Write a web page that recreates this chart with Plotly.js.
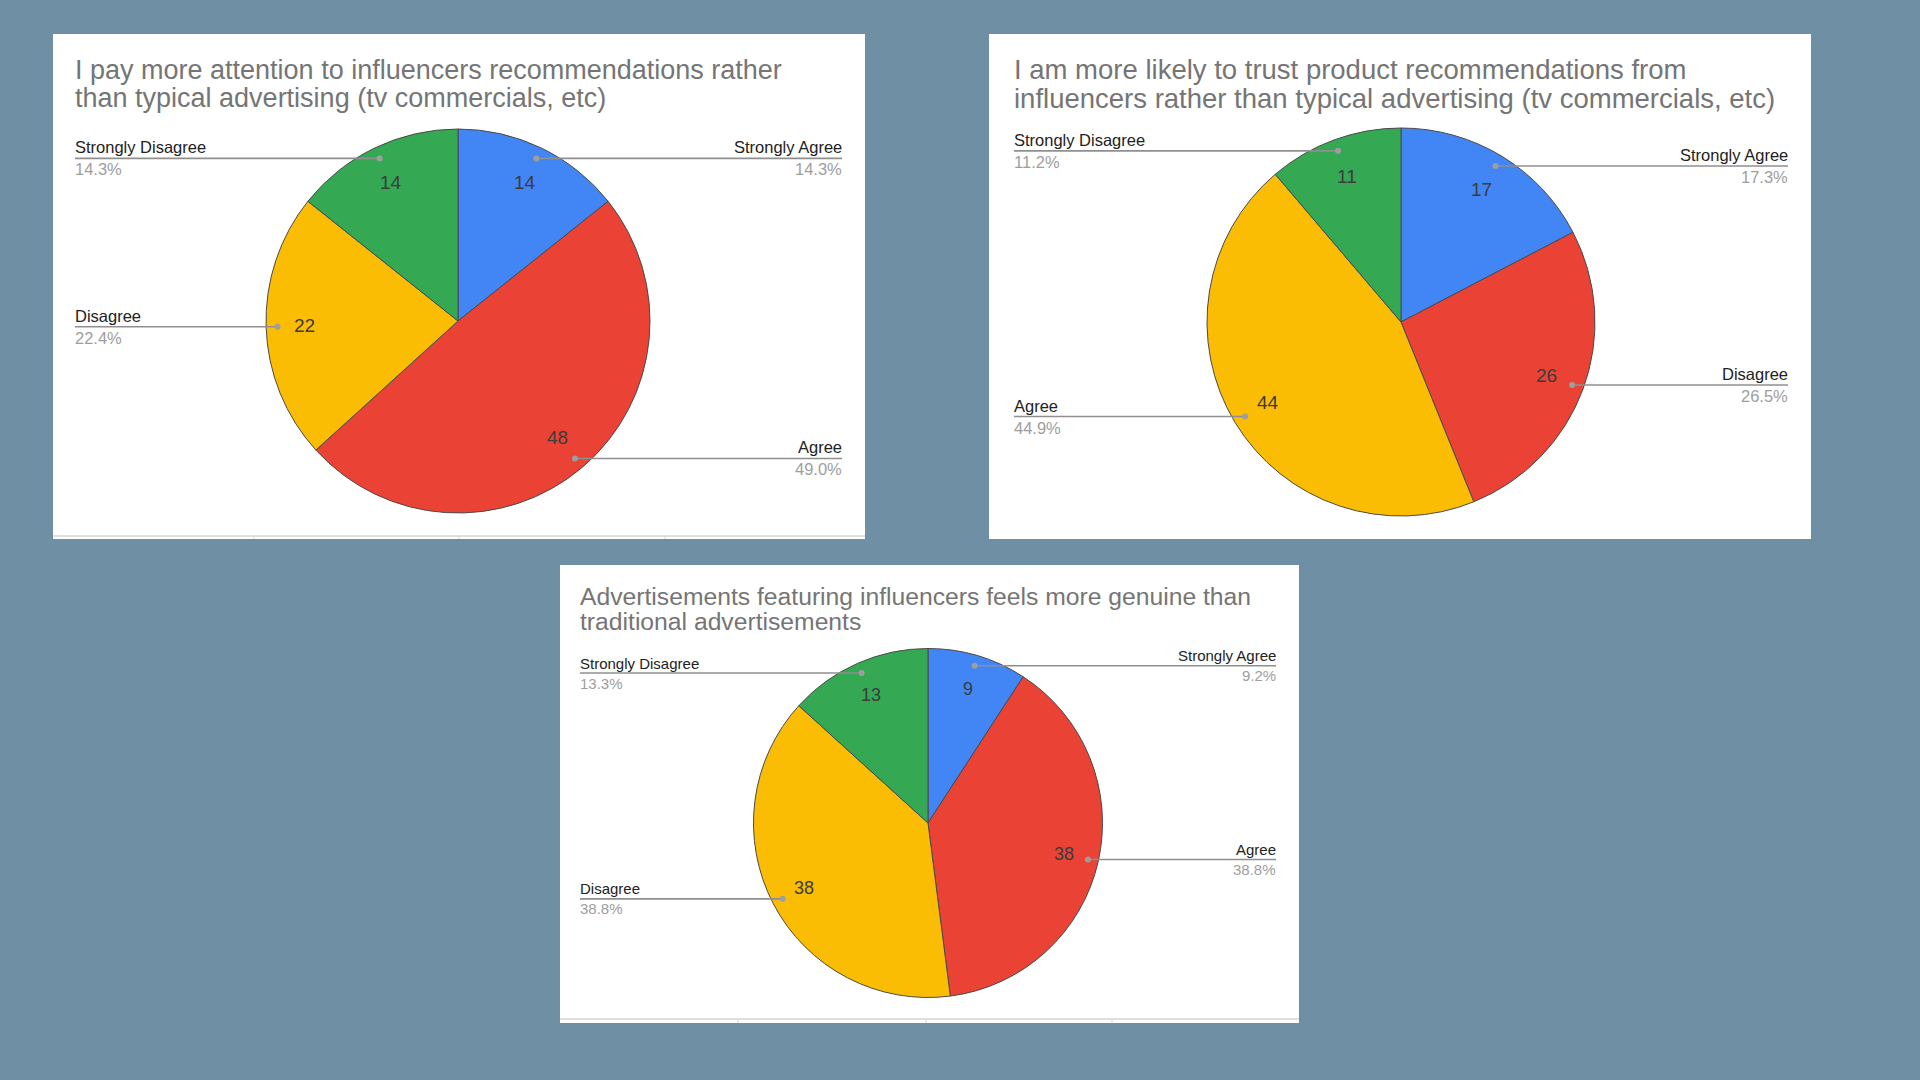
<!DOCTYPE html>
<html><head><meta charset="utf-8">
<script src="https://cdn.plot.ly/plotly-3.0.1.min.js"></script>
<style>html,body{margin:0;padding:0;background:#6f8fa4;}#chart{width:1920px;height:1080px;}</style>
</head><body><div id="chart"></div>
<script>
const W = 1920, H = 1080;
const sliceColors = ['#4285F4', '#EA4335', '#FBBC04', '#34A853'];

// Chart 1
const title1 = ['I pay more attention to influencers recommendations rather', 'than typical advertising (tv commercials, etc)'];
const cats1 = ['Strongly Agree', 'Agree', 'Disagree', 'Strongly Disagree'];
const vals1 = [14, 48, 22, 14];

// Chart 2
const title2 = ['I am more likely to trust product recommendations from', 'influencers rather than typical advertising (tv commercials, etc)'];
const cats2 = ['Strongly Agree', 'Disagree', 'Agree', 'Strongly Disagree'];
const vals2 = [17, 26, 44, 11];

// Chart 3
const title3 = ['Advertisements featuring influencers feels more genuine than', 'traditional advertisements'];
const cats3 = ['Strongly Agree', 'Agree', 'Disagree', 'Strongly Disagree'];
const vals3 = [9, 38, 38, 13];

const FONT = 'Liberation Sans, Arial, sans-serif';

const charts = [
  {cats: cats1, vals: vals1, title: title1, panel: [53, 34, 865, 539], cx: 458, cy: 321, r: 192,
   tl: 75, tr: 842, t1y: 70, tdy: 28, tfs: 27, lfs: 16.5, vfs: 19, lo: 11, bottom: 536, ticks: [254, 459, 665]},
  {cats: cats2, vals: vals2, title: title2, panel: [989, 34, 1811, 539], cx: 1401, cy: 322, r: 194,
   tl: 1014, tr: 1788, t1y: 70, tdy: 28, tfs: 27.5, lfs: 16.5, vfs: 19, lo: 11, bottom: null, ticks: []},
  {cats: cats3, vals: vals3, title: title3, panel: [560, 565, 1299, 1023], cx: 928, cy: 823, r: 174.5,
   tl: 580, tr: 1276, t1y: 596, tdy: 25, tfs: 24.7, lfs: 15, vfs: 18, lo: 10, bottom: 1019, ticks: [738, 926, 1112]}
];

const px = x => x / W;
const py = y => 1 - y / H;

const traces = [], shapes = [], annotations = [];

charts.forEach(c => {
  const [x0, y0, x1, y1] = c.panel;
  shapes.push({type: 'rect', xref: 'paper', yref: 'paper', layer: 'below',
    x0: px(x0), x1: px(x1), y0: py(y1), y1: py(y0), fillcolor: '#ffffff', line: {width: 0}});
  if (c.bottom !== null) {
    shapes.push({type: 'line', xref: 'paper', yref: 'paper', layer: 'below',
      x0: px(x0), x1: px(x1), y0: py(c.bottom), y1: py(c.bottom), line: {color: '#d6d6d6', width: 1.5}});
    c.ticks.forEach(t => shapes.push({type: 'line', xref: 'paper', yref: 'paper', layer: 'below',
      x0: px(t), x1: px(t), y0: py(c.bottom), y1: py(y1), line: {color: '#d6d6d6', width: 1}}));
  }

  traces.push({
    type: 'pie', labels: c.cats, values: c.vals, sort: false, direction: 'clockwise', rotation: 0,
    marker: {colors: sliceColors, line: {color: '#4a4a4a', width: 1}},
    textinfo: 'none', hoverinfo: 'label+value+percent', showlegend: false,
    domain: {x: [px(c.cx - c.r), px(c.cx + c.r)], y: [py(c.cy + c.r), py(c.cy - c.r)]}
  });

  // title (two lines)
  c.title.forEach((t, i) => annotations.push({
    xref: 'paper', yref: 'paper', x: px(c.tl - 2), y: py(c.t1y + i * c.tdy), xanchor: 'left', yanchor: 'middle',
    text: t, showarrow: false, font: {family: FONT, size: c.tfs, color: '#757575'}
  }));

  const total = c.vals.reduce((a, b) => a + b, 0);
  let cum = 0;
  c.vals.forEach((v, i) => {
    const mid = (cum + v / 2) / total * 2 * Math.PI;
    cum += v;
    const sx = Math.sin(mid), sy = -Math.cos(mid);
    // value label inside
    annotations.push({xref: 'paper', yref: 'paper', x: px(c.cx + 0.8 * c.r * sx), y: py(c.cy + 0.8 * c.r * sy),
      xanchor: 'center', yanchor: 'middle', text: String(v), showarrow: false,
      font: {family: FONT, size: c.vfs, color: '#3c3c3c'}});
    // leader line
    const dx = c.cx + 0.94 * c.r * sx, dy = c.cy + 0.94 * c.r * sy;
    const right = mid < Math.PI;
    const ex = right ? c.tr : c.tl;
    shapes.push({type: 'line', xref: 'paper', yref: 'paper', x0: px(dx), x1: px(ex), y0: py(dy), y1: py(dy),
      line: {color: '#8f8f8f', width: 1.6}});
    shapes.push({type: 'circle', xref: 'paper', yref: 'paper', x0: px(dx - 3), x1: px(dx + 3), y0: py(dy + 3), y1: py(dy - 3),
      fillcolor: '#9e9e9e', line: {width: 0}});
    const pct = (v / total * 100).toFixed(1) + '%';
    annotations.push({xref: 'paper', yref: 'paper', x: px(ex + (right ? 2 : -2)), y: py(dy - c.lo),
      xanchor: right ? 'right' : 'left', yanchor: 'middle', text: c.cats[i], showarrow: false,
      font: {family: FONT, size: c.lfs, color: '#222222'}});
    annotations.push({xref: 'paper', yref: 'paper', x: px(ex + (right ? 2 : -2)), y: py(dy + c.lo),
      xanchor: right ? 'right' : 'left', yanchor: 'middle', text: pct, showarrow: false,
      font: {family: FONT, size: c.lfs, color: '#9e9e9e'}});
  });
});

const layout = {
  width: W, height: H, margin: {l: 0, r: 0, t: 0, b: 0},
  paper_bgcolor: '#6f8fa4', plot_bgcolor: '#6f8fa4',
  showlegend: false, shapes: shapes, annotations: annotations
};

Plotly.newPlot('chart', traces, layout, {displayModeBar: false, staticPlot: true});
</script>
</body></html>
